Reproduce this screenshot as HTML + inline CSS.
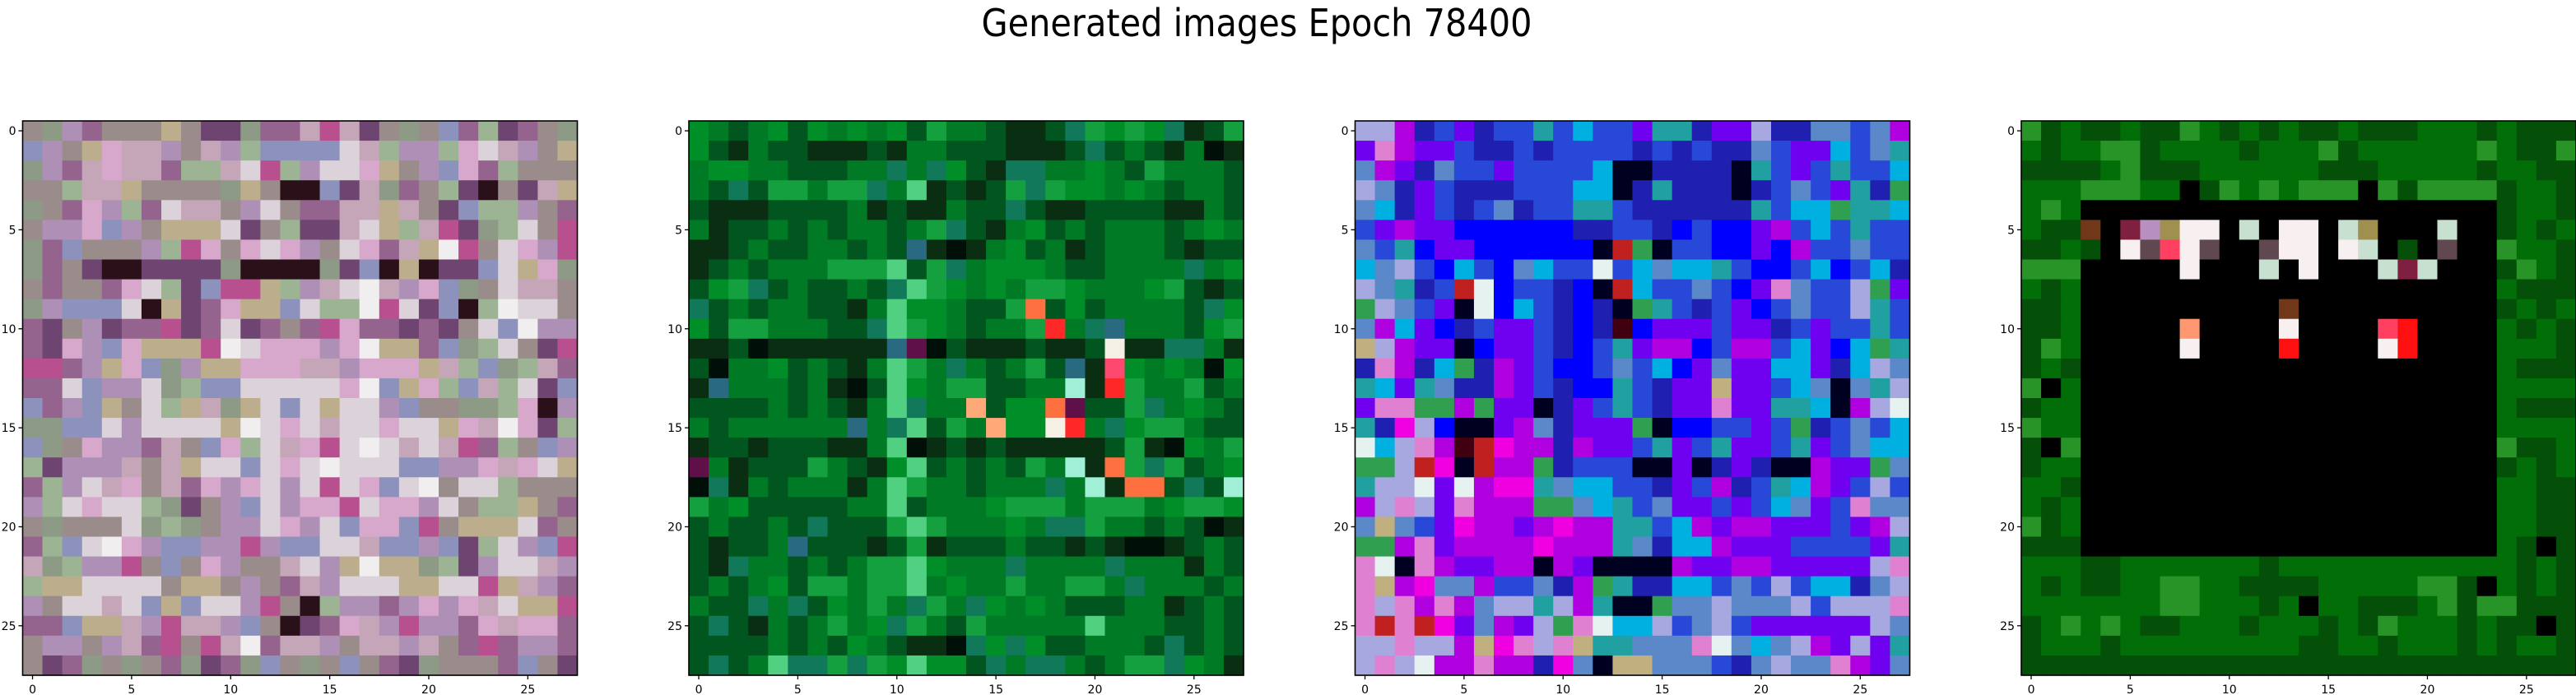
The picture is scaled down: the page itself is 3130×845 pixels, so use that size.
<!DOCTYPE html>
<html><head><meta charset="utf-8"><style>
html,body{margin:0;padding:0;background:#fff;width:3130px;height:845px;overflow:hidden}
svg{display:block}
text{font-family:"DejaVu Sans","Liberation Sans",sans-serif;fill:#000}
</style></head><body>
<svg id="fig" width="3130" height="845" viewBox="0 0 3130 845" xmlns="http://www.w3.org/2000/svg">
<text x="1527" y="44" font-size="46" text-anchor="middle" textLength="669" lengthAdjust="spacingAndGlyphs">Generated images Epoch 78400</text>
</svg>
<script>
// ---- data: 4 generated 28x28 images, per-cell color codes ----
const tickValues = [0,5,10,15,20,25];
const img1Palette = {a:'#9a8c8a',b:'#ae90b6',c:'#c4a6b8',d:'#dcd2da',e:'#8c9a86',f:'#6e4470',k:'#2a1018',r:'#b85090',y:'#bcae8c',g:'#9cb494',u:'#8c92bc',w:'#f0eeee',p:'#d8a8cc',m:'#94648e'};
const img1Rows = [
"aebmaaayaffemmcrcfaeaumgfmae",
"ubaypccbacbguuuudcgbbgpdcbay",
"ebmcpccmggcdrgbddpyabupmgaaa",
"aagccyaaaaeyakkufcemagfkafcy",
"eampbgmdccabdammccycafuggbam",
"abbpubayyydfagffcdygcrfegdar",
"emuaaabgrpapdpbadpmcywradpbr",
"emafkkffffekkkkefukykffudype",
"amaampdgfurrygbcdwcbpueadcca",
"ebuuudkyfmpyyudggwrdfukgwdda",
"mfabfmmrfmdfmamrpmmfmfaduwbb",
"mfpbupyyyrwdpppbpwyymuegdafr",
"rrmbypuebyypppccbpppycguegcm",
"mmdubbdeguudddddpwuypgucgdfu",
"umbuyadgyceydudyddbuaaeegpkb",
"eeuudbddddywdpdcddpddypcwpfg",
"ueapbbmcaupgdcprdwdcdcrmgaub",
"gfbbbcacyddudpdwddduubbpcpdy",
"mgbdcpacmpbpdbdrdpudwaddgaaa",
"bgdpddgefabudbpprdppbdaggyam",
"aeaaadegeabbdpbduppurayyydma",
"mgudwpbuubbrbuuddcuubufgdbur",
"cegbbrauapbaacdbywyyegfbddcb",
"gyyddddayyabamcbdddyyddrycbm",
"baddcduyuddbrakgbbmbpbpcdyyr",
"mmuyycbrccbuakfmpcbrbbmpcppm",
"abbabcmrarcwmccbaccbcamrmbbm",
"afmeaeamefmeuaeauamfeaaamuaf"
];
const img2Palette = {g:'#007a25',d:'#00561e',k:'#0a2e12',l:'#15a040',e:'#008e28',m:'#50d080',t:'#12785a',x:'#001008',w:'#f4f0e6',o:'#ff7040',r:'#ff2828',p:'#ff4870',f:'#ffa878',v:'#601048',z:'#a0f0d8',q:'#2a6a80'};
const img2Rows = [
"egdgedegegedlggdkkdtleletkdl",
"edkgddkkkdkggdddkkkdtdgdkgxk",
"geeggdddggtgtedkttggegdlgggd",
"gdtdllglltgmkdkdltleegegdggd",
"dkkkddddgkdkkgddtdkkddddkkgd",
"gkddgdgdggdgltdkgedgdgggdgeg",
"kkdgddggdgdqkxkgedgkdgggdkdd",
"kdgdggglllmdltgeeegddggggtge",
"deltdgddgdtmlegegllegggeldkd",
"tdgdggddkgmeegddlodedggggdte",
"edllgggddtmlegdgglrgtqgggdel",
"kkdxkkkkkkqvxdkkkdkkdwkkttgk",
"dxggedgdkgmlgtgdgldqkpegegxe",
"kqgggdgkxdmegllddggzkrlggldg",
"ddddgdgdkgmtggfdeeovddltgegd",
"gdggggggqgtmdlgfeewrgtellgdd",
"kddkdddkkgmxkdkdkkkkkdlkxegl",
"vgkdddlgdkemdgdgdlgzkoltldge",
"xtkgdgggkgmlggdgggtgzkoodtdz",
"lgedddddggmdgggelllglllgelle",
"dgddgdtdddlmlgggegttlggdgdxk",
"dkddgqdddkdlkdddgddkdkxxkdgd",
"dktggdgdgllmegggtggggtgggkgd",
"dgdgedllgllmgegglggllgtgggdg",
"gddtgtdeglgtlgtegegdddggkdgd",
"dtdkgdglgetlgdlgggggmgggddgd",
"ddddgdgdegdkkxteteddgggdtdgd",
"dtdgmttltlemeedtgttgdglltegk"
];
const img3Palette = {B:'#0000ff',b:'#2848d8',n:'#2020b0',v:'#7000f0',c:'#00b0e0',p:'#b000e0',l:'#a8a8e0',t:'#20a0a0',k:'#000020',w:'#e6f2f0',i:'#e080d0',s:'#5a88c8',r:'#c02020',g:'#30a050',m:'#f000e0',y:'#c0b080',h:'#400010'};
const img3Rows = [
"llpnbvnbbtbcbbvttnvvlnnssbsp",
"vipvvbnnbnbbbbnbnbnnsbvvcbst",
"spvnsbbvbbbbckknnnnktbvbtbbc",
"lsnvbnnnbbbcckntnnnknbsbvtng",
"scnvbnbsnbbttbnnnnnntbccgttc",
"bvpvvBBBBBBnnbbnBbBBvpbcbtbb",
"sbtBvvBBBBBBkrgkbbBBvBpbbsbb",
"cslbBcbBscbbwbcscctbBBbcBbcn",
"lstnbrwBbbnBkrcbbsbBvisbblgv",
"glsbvkwBcbnBnkgtbnbvBbsbbltb",
"spcvBnbvvbnBnhBvvvbvvnbvbbtb",
"ylpvvkBvvbnBbtvppBbppbcvBcgt",
"nipncgnpvbBBbsbcBvsvvccvncls",
"tcvtsnnpvbnBBtbnvvyvvbcskstl",
"viiggpgvvknvbtbnvvivvttckplw",
"tnmlBkkvpsnvvvgkBBbbvbgnbsbc",
"wcliphrmppnpvvbtvbtvvbtvbscc",
"gglrmkrppgnbbbkkvknvnkkpvvgs",
"tllwvwpmmtsccbbnvbpnbtcpvblb",
"plilvipppggsctbsvvbvbcsvbiss",
"sysbvmppvpmppttbcpvppvvvbvpl",
"ggpivppppmppptsnccpvvvbbbbvt",
"iwkipvvppkpvkkkkpvvppvvvvvli",
"iypmsspbbsnpgtnnccbsblbccnsl",
"ilipipslltlptkkgsslssslbllli",
"irirmvspvlgiwcclbslbvvvvvvls",
"llillpymiliyttsssiwscslpvlvt",
"lilwppippnmskyysssbnslssipvs"
];
const img4Palette = {g:'#026e08',d:'#045008',l:'#289428',e:'#0c8a10',k:'#000000',w:'#f8f0f0',p:'#ff4060',r:'#ff1010',o:'#ff9870',h:'#b890c0',m:'#604850',n:'#802040',b:'#703818',s:'#c8e0d0',y:'#a09050'};
const img4Rows = [
"ldgddgddlgdgdgddgdddgggdgddd",
"gdgglldggggdgggldgggggglgddl",
"ddddgldddggggggdddgggggdggdd",
"ggglllggkdlglglllkldlllldggd",
"glgkkkkkkkkkkkkkkkkkkkkkdggd",
"gddbknhywwkskwwksykkkskkdgdg",
"ddgdkwmpwmkkmwwkwskdkmkklggd",
"lllkkkkkwkkkskwkkksnskkkdlgd",
"gdgkkkkkkkkkkkkkkkkkkkkkgddd",
"ddgkkkkkkkkkkbkkkkkkkkkkdgdg",
"ddgkkkkkokkkkwkkkkprkkkkgdgd",
"dlgkkkkkwkkkkrkkkkwrkkkkgggd",
"dgdkkkkkkkkkkkkkkkkkkkkkgddd",
"lkgkkkkkkkkkkkkkkkkkkkkkgggg",
"dggkkkkkkkkkkkkkkkkkkkkkgddd",
"lggkkkkkkkkkkkkkkkkkkkkkgggg",
"dklkkkkkkkkkkkkkkkkkkkkklddg",
"dggkkkkkkkkkkkkkkkkkkkkkdgdg",
"ggdkkkkkkkkkkkkkkkkkkkkkggdd",
"gdgkkkkkkkkkkkkkkkkkkkkkggdd",
"ldgkkkkkkkkkkkkkkkkkkkkkggdd",
"dddkkkkkkkkkkkkkkkkkkkkkgdkd",
"gggddgggggggdggggggggggggdgd",
"gdgddggllggddddggggglldkgdgd",
"gggggggllgggdgkggdddgldllddd",
"dglglgddgggdgggdgdlgggdgddkd",
"dgggdgggggggggddggdgggdgdggd",
"dddddddddddddddddddddddddddd"
];
const images = [[img1Palette,img1Rows],[img2Palette,img2Rows],[img3Palette,img3Rows],[img4Palette,img4Rows]];

const NS = 'http://www.w3.org/2000/svg';
const svg = document.getElementById('fig');
const axLeft = [27.5, 837, 1646.5, 2456];
const axTop = 147, axSize = 674, N = 28, cell = axSize / N;
function mk(tag, attrs){ const e = document.createElementNS(NS, tag); for (const k in attrs) e.setAttribute(k, attrs[k]); return e; }

images.forEach(([pal, rows], idx) => {
  const x0 = axLeft[idx];
  const sx = c => x0 + c * cell;
  const sy = r => axTop + r * cell;
  const g = mk('g', {});
  
  
  svg.appendChild(g);
  for (let r = 0; r < N; r++) {
    const row = rows[r] || '';
    for (let c = 0; c < N; c++) {
      const ch = row[c] || row[c % Math.max(row.length,1)] || Object.keys(pal)[0];
      const rect = mk('rect', {x: sx(c).toFixed(2), y: sy(r).toFixed(2), width: (cell + 0.6).toFixed(2), height: (cell + 0.6).toFixed(2), fill: pal[ch] || pal[Object.keys(pal)[0]]});
      
      
      g.appendChild(rect);
    }
  }
  const frame = mk('rect', {x: x0, y: axTop, width: axSize, height: axSize, fill: 'none', stroke: '#000', 'stroke-width': 1.6});
  
  
  g.appendChild(frame);
  tickValues.forEach(v => {
    const py = sy(v + 0.5), px = sx(v + 0.5);
    const t1 = mk('line', {x1: x0 - 5, x2: x0, y1: py, y2: py, stroke: '#000', 'stroke-width': 1.3});
    
    
    g.appendChild(t1);
    const l1 = mk('text', {x: x0 - 8, y: py + 5, 'font-size': 14, 'text-anchor': 'end'});
    
    
    l1.textContent = v;
    g.appendChild(l1);
    const t2 = mk('line', {x1: px, x2: px, y1: axTop + axSize, y2: axTop + axSize + 5, stroke: '#000', 'stroke-width': 1.3});
    
    
    g.appendChild(t2);
    const l2 = mk('text', {x: px, y: axTop + axSize + 22, 'font-size': 14, 'text-anchor': 'middle'});
    
    
    l2.textContent = v;
    g.appendChild(l2);
  });
});
</script>
</body></html>
